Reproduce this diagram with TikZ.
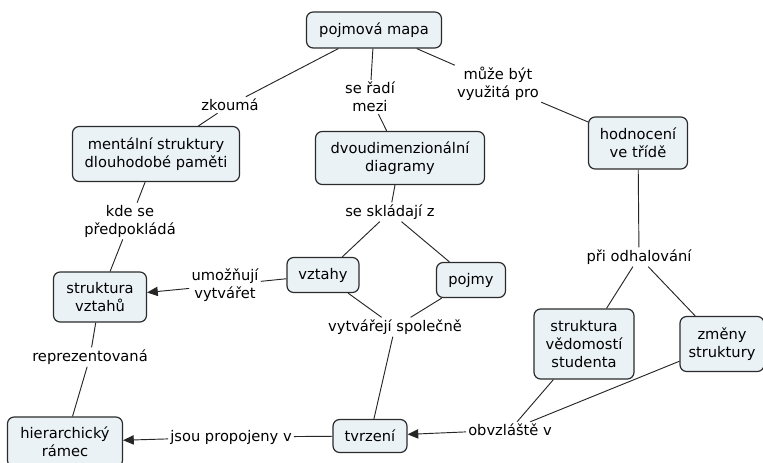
\documentclass[tikz,border=0pt]{standalone}
\usepackage{fontspec}
\setmainfont{DejaVu Sans}
\usetikzlibrary{arrows.meta, positioning}
\definecolor{conceptfill}{HTML}{EAF2F6}
\definecolor{conceptline}{HTML}{2B2B2B}

\begin{document}
\begin{tikzpicture}[
    x=0.75pt, y=-0.75pt,
    every node/.style={font=\fontsize{11}{13.5}\selectfont, align=center},
    concept/.style={draw=conceptline, line width=0.9pt, fill=conceptfill, rounded corners=5pt, inner sep=2pt},
    wh/.style 2 args={minimum width=#1*0.75pt, minimum height=#2*0.75pt},
    link/.style={inner sep=1.5pt},
    con/.style={draw=black!85, line width=0.7pt},
    arr/.style={con, -{Triangle[length=8pt, width=7pt]}}
]
\useasboundingbox (0,0) rectangle (763,463);

% Concepts
\node[concept, wh={135}{36}] (map) at (374,30) {pojmová mapa};
\node[concept, wh={167}{55}] (mental) at (156,154) {mentální struktury\\dlouhodobé paměti};
\node[concept, wh={169}{53}] (diagrams) at (400,158) {dvoudimenzionální\\diagramy};
\node[concept, wh={99}{52}] (assess) at (638,143) {hodnocení\\ve třídě};
\node[concept, wh={93}{50}] (relstruct) at (100,297) {struktura\\vztahů};
\node[concept, wh={72}{35}] (relations) at (323,275) {vztahy};
\node[concept, wh={69}{35}] (concepts) at (471,280) {pojmy};
\node[concept, wh={100}{70}] (knowledge) at (584,344) {struktura\\vědomostí\\studenta};
\node[concept, wh={84}{55}] (changes) at (722,344) {změny\\struktury};
\node[concept, wh={115}{50}] (frame) at (65,442) {hierarchický\\rámec};
\node[concept, wh={74}{33}] (claims) at (370,436) {tvrzení};

% Linking phrases
\node[link] (explores) at (230,105) {zkoumá};
\node[link] (ranks) at (370,97) {se řadí\\mezi};
\node[link] (usable) at (498,84) {může být\\využitá pro};
\node[link] (assumed) at (130,221) {kde se\\předpokládá};
\node[link] (consist) at (390,212) {se skládají z};
\node[link] (enable) at (225,285) {umožňují\\vytvářet};
\node[link] (together) at (395,327) {vytvářejí společně};
\node[link] (revealing) at (639,257) {při odhalování};
\node[link] (especially) at (510,430) {obvzláště v};
\node[link] (linked) at (231,437) {jsou propojeny v};
\node[link] (represented) at (90,357) {reprezentovaná};

% Connecting lines
\draw[con] (map) -- (explores);
\draw[con] (explores) -- (mental);
\draw[con] (map) -- (ranks);
\draw[con] (ranks) -- (diagrams);
\draw[con] (map) -- (usable);
\draw[con] (usable) -- (assess);
\draw[con] (mental) -- (assumed);
\draw[con] (assumed) -- (relstruct);
\draw[con] (diagrams) -- (consist);
\draw[con] (consist) -- (relations);
\draw[con] (consist) -- (concepts);
\draw[con] (relations) -- (enable);
\draw[arr] (enable) -- (relstruct);
\draw[con] (relations) -- (together);
\draw[con] (concepts) -- (together);
\draw[con] (together) -- (claims);
\draw[con] (assess) -- (revealing);
\draw[con] (revealing) -- (knowledge);
\draw[con] (revealing) -- (changes);
\draw[con] (knowledge) -- (especially);
\draw[con] (changes) -- (especially);
\draw[arr] (especially) -- (claims);
\draw[con] (claims) -- (linked);
\draw[arr] (linked) -- (frame);
\draw[con] (relstruct) -- (represented);
\draw[con] (represented) -- (frame);

\end{tikzpicture}
\end{document}
